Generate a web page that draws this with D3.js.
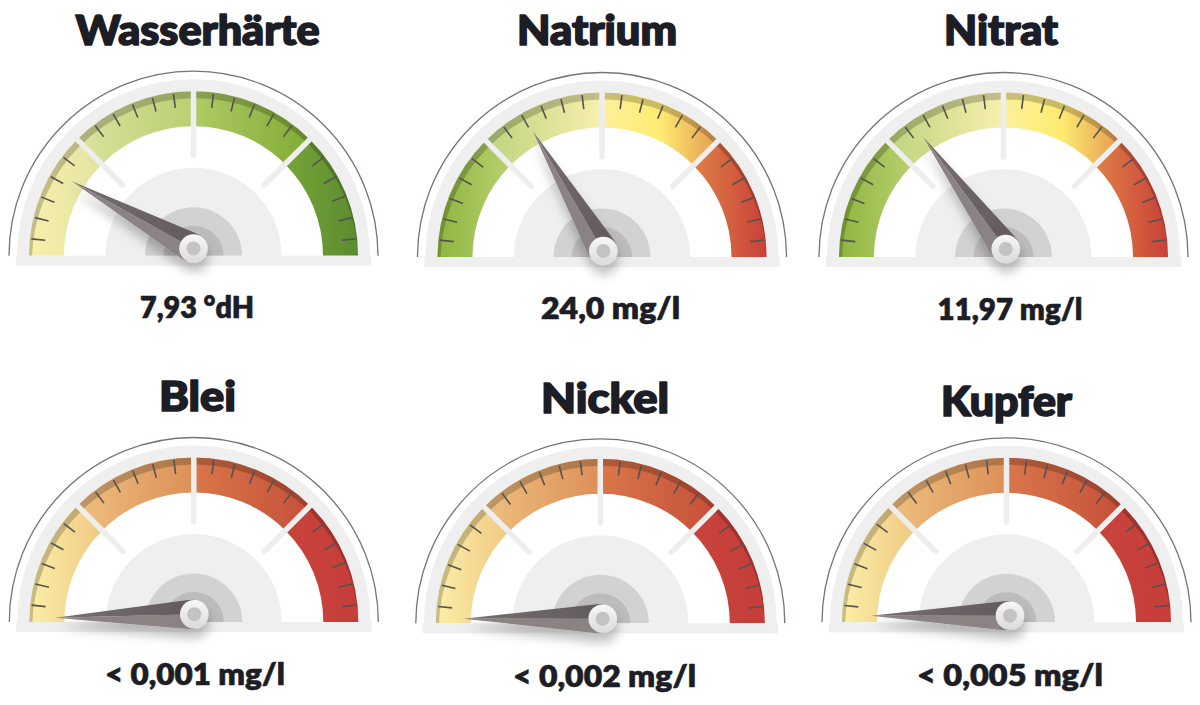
<!DOCTYPE html>
<html lang="de">
<head>
<meta charset="utf-8">
<title>Wasserwerte</title>
<script src="https://cdnjs.cloudflare.com/ajax/libs/d3/7.8.5/d3.min.js"></script>
<style>
    html, body { margin: 0; padding: 0; background: #fff; }
    svg { display: block; }
    .title { font-family: Lato, sans-serif; font-weight: 900; font-size: 41px; fill: #1d1d26; stroke: #1d1d26; stroke-width: 1.7px; stroke-linejoin: round; text-anchor: middle; }
    .label { font-family: Lato, sans-serif; font-weight: 800; font-size: 30px; fill: #1d1d26; stroke: #1d1d26; stroke-width: 0.6px; stroke-linejoin: round; text-anchor: middle; }
</style>
</head>
<body>
<div id="chart"></div>
<script>
// values
var titles = ["Wasserhärte", "Natrium", "Nitrat", "Blei", "Nickel", "Kupfer"];
var labels = ["7,93 °dH", "24,0 mg/l", "11,97 mg/l", "< 0,001 mg/l", "< 0,002 mg/l", "< 0,005 mg/l"];
// needle position on the dial, 0 = far left, 100 = far right
var needleValues = [16.1, 33.1, 29.8, -0.8, 0, 0];
var sectorBreaks = [0, 25, 50, 75, 100];
var tickValues = [3.3, 7.5, 11.7, 16.1, 20.6, 29.4, 33.6, 37.8, 41.9, 46.1,
                  53.9, 58.1, 62.2, 66.4, 70.6, 79.4, 83.9, 88.1, 92.5, 96.7];

// colour ramps, one list of stops per sector
var rampHardness = [["#f8f0ac", "#e3e3a0"], ["#dce29e", "#b9d072"], ["#b0ca67", "#80ab33"], ["#76a436", "#5c8b31"]];
var rampSalts = [["#8db63f", "#b8d070"], ["#bdd47c", "#f8efae"], ["#fdf09a", "#feeb72", "#e49a50"], ["#de8046", "#d4603f", "#c9403a"]];
var rampMetals = [["#fbeea6", "#f0c984"], ["#eec07f", "#dd8f57"], ["#d8774a", "#c64f3a"], ["#c8443a", "#c63d3a"]];
var ramps = [rampHardness, rampSalts, rampMetals];
var gaugeRamp = [0, 1, 1, 2, 2, 2];

// layout
var centers = [[193.5, 255.7], [602, 257], [1003.5, 257], [193.8, 622], [600.3, 623.3], [1006.5, 622.3]];
var hubOffsets = [[0, -7.2], [1.3, -6], [2.2, -8], [0.5, -7.7], [2.4, -4.6], [3.5, -6.6]];
var titlePos = [[197.5, 45], [597, 45], [1001, 45], [197.5, 411], [605, 413], [1006.5, 416]];
var titleWidths = [244, 160, 114, 77, 128, 131];
var labelPos = [[197, 318], [610.5, 319], [1010, 320], [195, 685], [604.5, 687], [1010, 686]];
var labelWidths = [114, 139, 145, 180, 183, 186];

var outerR = 164.5, innerR = 129.5;

var angle = d3.scaleLinear().domain([0, 100]).range([-Math.PI / 2, Math.PI / 2]);
var angleDeg = d3.scaleLinear().domain([0, 100]).range([-90, 90]);

var svg = d3.select("#chart")
        .append("svg")
        .attr("width", 1200)
        .attr("height", 705)
        .attr("viewBox", "0 0 1200 705");

var defs = svg.append("defs");
var sectors = d3.pairs(sectorBreaks);

function xOn(r, v) {
    return r * Math.sin(angle(v));
}

ramps.forEach((ramp, i) => {
    ramp.forEach((stops, j) => {
        var s = sectors[j];
        var xs = [xOn(outerR, s[0]), xOn(outerR, s[1]), xOn(innerR, s[0]), xOn(innerR, s[1])];
        var grad = defs.append("linearGradient")
                .attr("id", "ramp_" + i + "_" + j)
                .attr("gradientUnits", "userSpaceOnUse")
                .attr("x1", d3.min(xs)).attr("x2", d3.max(xs))
                .attr("y1", 0).attr("y2", 0);
        stops.forEach((c, k) => {
            grad.append("stop")
                    .attr("offset", k / (stops.length - 1))
                    .attr("stop-color", c);
        });
    });
});

var upperGrad = defs.append("linearGradient")
        .attr("id", "needleDark").attr("x1", 0).attr("x2", 0).attr("y1", 0).attr("y2", 1);
upperGrad.append("stop").attr("offset", 0).attr("stop-color", "#766e70");
upperGrad.append("stop").attr("offset", 1).attr("stop-color", "#625a5c");

var hubGrad = defs.append("linearGradient")
        .attr("id", "hubFace").attr("x1", 0).attr("x2", 0).attr("y1", 0).attr("y2", 1);
hubGrad.append("stop").attr("offset", 0).attr("stop-color", "#f8f8f8");
hubGrad.append("stop").attr("offset", 1).attr("stop-color", "#dcdada");

var shadow = defs.append("filter")
        .attr("id", "needleShadow")
        .attr("filterUnits", "userSpaceOnUse")
        .attr("x", -200).attr("y", -200).attr("width", 400).attr("height", 280);
shadow.append("feDropShadow")
        .attr("dx", 1).attr("dy", 9)
        .attr("stdDeviation", 5.5)
        .attr("flood-color", "#000")
        .attr("flood-opacity", 0.25);

var arc = d3.arc();

function drawGauge(i) {
    var g = svg.append("g")
            .attr("transform", "translate(" + centers[i] + ")");

    // thin outer line
    g.append("path")
            .attr("d", arc({innerRadius: 184.5, outerRadius: 184.5, startAngle: -Math.PI / 2, endAngle: Math.PI / 2}))
            .attr("fill", "none")
            .attr("stroke", "#7a7274")
            .attr("stroke-width", 1.3);

    // grey ring
    g.append("path")
            .attr("d", arc({innerRadius: outerR - 1, outerRadius: 176.5, startAngle: -Math.PI / 2, endAngle: Math.PI / 2}))
            .attr("fill", "#efefef");

    // coloured sectors
    g.selectAll(".sector")
            .data(sectors)
            .enter()
            .append("path")
            .attr("class", "sector")
            .attr("d", (d) => {
                return arc({innerRadius: innerR, outerRadius: outerR, startAngle: angle(d[0]), endAngle: angle(d[1])});
            })
            .attr("fill", (d, j) => {
                return "url(#ramp_" + gaugeRamp[i] + "_" + j + ")";
            });

    // dark rim along the upper edge of the band
    var mask = g.append("mask")
            .attr("id", "rim_" + i)
            .attr("maskUnits", "userSpaceOnUse")
            .attr("x", -200).attr("y", -200).attr("width", 400).attr("height", 220);
    mask.append("rect").attr("x", -200).attr("y", -200).attr("width", 400).attr("height", 220).attr("fill", "#fff");
    mask.append("circle").attr("cx", 1.5).attr("cy", 5.5).attr("r", 163).attr("fill", "#000");
    g.append("path")
            .attr("d", arc({innerRadius: innerR, outerRadius: outerR, startAngle: -Math.PI / 2, endAngle: Math.PI / 2}))
            .attr("fill", "#000")
            .attr("opacity", 0.2)
            .attr("mask", "url(#rim_" + i + ")");

    // ticks
    g.selectAll(".tick")
            .data(tickValues)
            .enter()
            .append("line")
            .attr("class", "tick")
            .attr("x1", (d) => xOn(163, d))
            .attr("x2", (d) => xOn(149, d))
            .attr("y1", (d) => -163 * Math.cos(angle(d)))
            .attr("y2", (d) => -149 * Math.cos(angle(d)))
            .attr("stroke", "#56524f")
            .attr("stroke-width", 1.6);

    // dividers between the sectors
    g.selectAll(".divider")
            .data(sectorBreaks.slice(1, 4))
            .enter()
            .append("line")
            .attr("class", "divider")
            .attr("x1", (d) => xOn(166, d))
            .attr("x2", (d) => xOn(100, d))
            .attr("y1", (d) => -166 * Math.cos(angle(d)))
            .attr("y2", (d) => -100 * Math.cos(angle(d)))
            .attr("stroke", "#eeeeee")
            .attr("stroke-width", 5.5)
            .attr("stroke-linecap", "round");

    // half discs in the middle
    [[88, "#efefef"], [48.5, "#d3d2d3"], [30, "#bdbbbc"]].forEach((disc) => {
        g.append("path")
                .attr("d", arc({innerRadius: 0, outerRadius: disc[0], startAngle: -Math.PI / 2, endAngle: Math.PI / 2}))
                .attr("fill", disc[1]);
    });

    // base bar
    g.append("rect")
            .attr("x", -177.7).attr("y", 0)
            .attr("width", 355.4).attr("height", 10)
            .attr("fill", "#efefef");

    // needle and hub
    var hub = g.append("g")
            .attr("transform", "translate(" + hubOffsets[i] + ")")
            .attr("filter", "url(#needleShadow)");
    var needle = hub.append("g")
            .attr("transform", "rotate(" + angleDeg(needleValues[i]) + ")");
    needle.append("path")
            .attr("d", "M0,-139L14.5,-6L14.5,0L0,0Z")
            .attr("fill", "url(#needleDark)");
    needle.append("path")
            .attr("d", "M0,-139L-14.5,-6L-14.5,0L0,0Z")
            .attr("fill", "#8a8283");
    hub.append("circle").attr("r", 14.3).attr("fill", "url(#hubFace)");
    hub.append("circle").attr("r", 7).attr("fill", "#c4c2c2");

    // texts
    svg.append("text")
            .attr("class", "title")
            .attr("x", titlePos[i][0]).attr("y", titlePos[i][1])
            .attr("textLength", titleWidths[i])
            .attr("lengthAdjust", "spacingAndGlyphs")
            .text(titles[i]);
    svg.append("text")
            .attr("class", "label")
            .attr("x", labelPos[i][0]).attr("y", labelPos[i][1])
            .attr("textLength", labelWidths[i])
            .attr("lengthAdjust", "spacingAndGlyphs")
            .text(labels[i]);
}

titles.forEach((t, i) => {
    drawGauge(i);
});
</script>
</body>
</html>
